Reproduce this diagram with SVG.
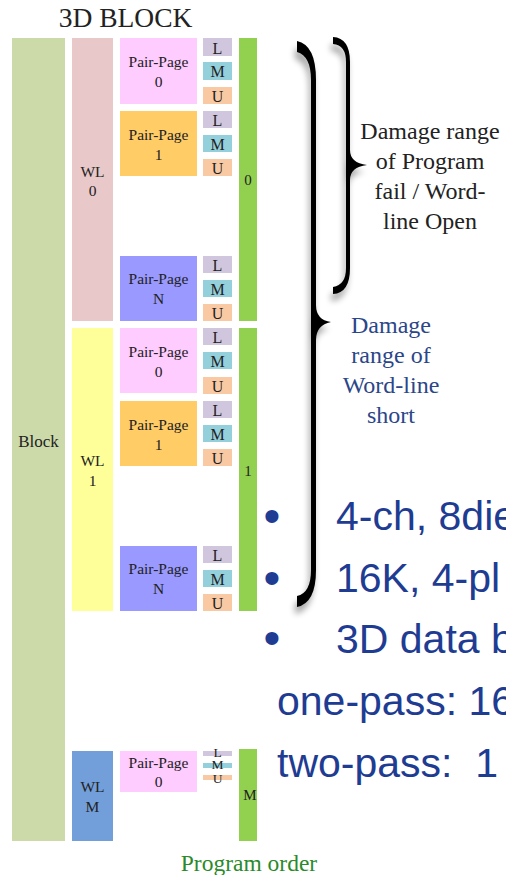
<svg xmlns="http://www.w3.org/2000/svg" width="506" height="875" viewBox="0 0 506 875">
<style>
  .serif { font-family: "Liberation Serif", "Times New Roman", serif; }
  .t { fill: #222; text-anchor: middle; }
  .s155 { font-size: 15.5px; }
  .s16 { font-size: 16px; }
  .blk { fill: #ccdaaa; }
  .wl0 { fill: #e8c8c8; }
  .wl1 { fill: #ffff99; }
  .wlm { fill: #729fd9; }
  .pp0 { fill: #ffccff; }
  .pp1 { fill: #ffcc66; }
  .ppn { fill: #9999ff; }
  .L { fill: #d0c7de; }
  .M { fill: #93d0dc; }
  .U { fill: #f9c9a4; }
  .grn { fill: #92d050; }
  .brace { fill: #000; filter: url(#sh); }
  .dmg { font-size: 24px; text-anchor: middle; }
  .bul { font-family: "Liberation Sans", Arial, sans-serif; font-size: 41px; fill: #1f3c93; }
  .dot { font-family: "Liberation Sans", Arial, sans-serif; font-size: 48px; fill: #1f3c93; }
</style>
<defs>
  <filter id="sh" x="-50%" y="-10%" width="200%" height="130%">
    <feGaussianBlur in="SourceAlpha" stdDeviation="3"/>
    <feOffset dx="-2" dy="7" result="b"/>
    <feComponentTransfer><feFuncA type="linear" slope="0.35"/></feComponentTransfer>
    <feMerge><feMergeNode/><feMergeNode in="SourceGraphic"/></feMerge>
  </filter>
</defs>
<rect width="506" height="875" fill="#fff"/>

<text class="serif" x="125.5" y="27" font-size="27.5" fill="#222" text-anchor="middle">3D BLOCK</text>

<g id="block">
  <rect class="blk" x="12" y="38" width="53" height="803"/>
  <text class="serif t" x="38.5" y="447" font-size="17">Block</text>
</g>

<!-- WL 0 -->
<g id="wl0">
  <rect class="wl0" x="72" y="38" width="41" height="283"/>
  <text class="serif t s155" x="92.5" y="177">WL</text>
  <text class="serif t s155" x="92.5" y="196">0</text>
</g>
<g id="wl0-pp0">
  <rect class="pp0" x="120" y="38" width="77" height="66"/>
  <text class="serif t s155" x="158.5" y="67">Pair-Page</text>
  <text class="serif t s155" x="158.5" y="87">0</text>
  <rect class="L" x="203" y="38" width="29" height="18"/><text class="serif t s16" x="217.5" y="54">L</text>
  <rect class="M" x="203" y="62" width="29" height="18"/><text class="serif t s16" x="217.5" y="77">M</text>
  <rect class="U" x="203" y="87" width="29" height="17"/><text class="serif t s16" x="217.5" y="102">U</text>
</g>
<g id="wl0-pp1">
  <rect class="pp1" x="120" y="111" width="77" height="65"/>
  <text class="serif t s155" x="158.5" y="140">Pair-Page</text>
  <text class="serif t s155" x="158.5" y="160">1</text>
  <rect class="L" x="203" y="111" width="29" height="17"/><text class="serif t s16" x="217.5" y="126">L</text>
  <rect class="M" x="203" y="135" width="29" height="17"/><text class="serif t s16" x="217.5" y="150">M</text>
  <rect class="U" x="203" y="159" width="29" height="17"/><text class="serif t s16" x="217.5" y="174">U</text>
</g>
<g id="wl0-ppn">
  <rect class="ppn" x="120" y="256" width="77" height="65"/>
  <text class="serif t s155" x="158.5" y="284">Pair-Page</text>
  <text class="serif t s155" x="158.5" y="304">N</text>
  <rect class="L" x="203" y="256" width="29" height="17"/><text class="serif t s16" x="217.5" y="271">L</text>
  <rect class="M" x="203" y="280" width="29" height="17"/><text class="serif t s16" x="217.5" y="295">M</text>
  <rect class="U" x="203" y="304" width="29" height="17"/><text class="serif t s16" x="217.5" y="319">U</text>
</g>
<g id="order0">
  <rect class="grn" x="239" y="38" width="18" height="283"/>
  <text class="serif t" x="248" y="185" font-size="15">0</text>
</g>

<!-- WL 1 -->
<g id="wl1">
  <rect class="wl1" x="72" y="328" width="41" height="283"/>
  <text class="serif t s155" x="92.5" y="466">WL</text>
  <text class="serif t s155" x="92.5" y="486">1</text>
</g>
<g id="wl1-pp0">
  <rect class="pp0" x="120" y="328" width="77" height="65"/>
  <text class="serif t s155" x="158.5" y="357">Pair-Page</text>
  <text class="serif t s155" x="158.5" y="377">0</text>
  <rect class="L" x="203" y="328" width="29" height="17"/><text class="serif t s16" x="217.5" y="343">L</text>
  <rect class="M" x="203" y="352" width="29" height="17"/><text class="serif t s16" x="217.5" y="367">M</text>
  <rect class="U" x="203" y="377" width="29" height="17"/><text class="serif t s16" x="217.5" y="392">U</text>
</g>
<g id="wl1-pp1">
  <rect class="pp1" x="120" y="401" width="77" height="65"/>
  <text class="serif t s155" x="158.5" y="430">Pair-Page</text>
  <text class="serif t s155" x="158.5" y="450">1</text>
  <rect class="L" x="203" y="401" width="29" height="17"/><text class="serif t s16" x="217.5" y="416">L</text>
  <rect class="M" x="203" y="425" width="29" height="17"/><text class="serif t s16" x="217.5" y="440">M</text>
  <rect class="U" x="203" y="449" width="29" height="17"/><text class="serif t s16" x="217.5" y="464">U</text>
</g>
<g id="wl1-ppn">
  <rect class="ppn" x="120" y="546" width="77" height="65"/>
  <text class="serif t s155" x="158.5" y="574">Pair-Page</text>
  <text class="serif t s155" x="158.5" y="594">N</text>
  <rect class="L" x="203" y="546" width="29" height="17"/><text class="serif t s16" x="217.5" y="561">L</text>
  <rect class="M" x="203" y="570" width="29" height="17"/><text class="serif t s16" x="217.5" y="585">M</text>
  <rect class="U" x="203" y="594" width="29" height="17"/><text class="serif t s16" x="217.5" y="609">U</text>
</g>
<g id="order1">
  <rect class="grn" x="239" y="328" width="18" height="283"/>
  <text class="serif t" x="248" y="476" font-size="15">1</text>
</g>

<!-- WL M -->
<g id="wlm">
  <rect class="wlm" x="72" y="751" width="41" height="90"/>
  <text class="serif t s155" x="92.5" y="792">WL</text>
  <text class="serif t s155" x="92.5" y="812">M</text>
</g>
<g id="wlm-pp0">
  <rect class="pp0" x="120" y="751" width="77" height="41"/>
  <text class="serif t s155" x="158.5" y="768">Pair-Page</text>
  <text class="serif t s155" x="158.5" y="787">0</text>
  <rect class="L" x="203" y="751" width="29" height="5"/>
  <rect class="M" x="203" y="763" width="29" height="5"/>
  <rect class="U" x="203" y="775" width="29" height="5"/>
  <text class="serif t" x="217.5" y="757" font-size="13.5">L</text>
  <text class="serif t" x="217.5" y="769" font-size="13.5">M</text>
  <text class="serif t" x="217.5" y="783" font-size="13.5">U</text>
</g>
<g id="orderM">
  <rect class="grn" x="239" y="749" width="18" height="92"/>
  <text class="serif t" x="250" y="800" font-size="15">M</text>
</g>

<text class="serif" x="249" y="871" font-size="23.5" fill="#2a8a2a" text-anchor="middle">Program order</text>

<g id="connectors">
  <!-- small brace -->
  <path class="brace" d="M333,37 Q350,38 350,62 L350,150 Q350,163 367,165 Q350,167 350,180 L350,268 Q350,293 333,294 L333,287 Q346,285 346,268 L346,62 Q346,45 333,44 Z"/>
  <!-- big brace -->
  <path class="brace" d="M297,41 Q316,45 316,80 L316,305 Q316,320 331,322 Q316,325 316,340 L316,570 Q316,603 297,607 L297,596 Q311,593 311,570 L311,80 Q311,56 297,52 Z"/>
</g>

<g id="label-open">
  <text class="serif dmg" fill="#222" x="430" y="139">Damage range</text>
  <text class="serif dmg" fill="#222" x="430" y="169">of Program</text>
  <text class="serif dmg" fill="#222" x="430" y="199">fail / Word-</text>
  <text class="serif dmg" fill="#222" x="430" y="229">line Open</text>
</g>
<g id="label-short">
  <text class="serif dmg" fill="#2b4689" x="391" y="333">Damage</text>
  <text class="serif dmg" fill="#2b4689" x="391" y="363">range of</text>
  <text class="serif dmg" fill="#2b4689" x="391" y="393">Word-line</text>
  <text class="serif dmg" fill="#2b4689" x="391" y="423">short</text>
</g>

<g id="bullets">
  <text class="dot" x="263.6" y="532">•</text>
  <text class="bul" x="336" y="530">4-ch, 8die</text>
  <text class="dot" x="263.6" y="594">•</text>
  <text class="bul" x="336" y="592">16K, 4-pl</text>
  <text class="dot" x="263.6" y="654">•</text>
  <text class="bul" x="336" y="653">3D data b</text>
  <text class="bul" x="277" y="715">one-pass: 16</text>
  <text class="bul" x="277" y="777" xml:space="preserve">two-pass:  1</text>
</g>
</svg>
